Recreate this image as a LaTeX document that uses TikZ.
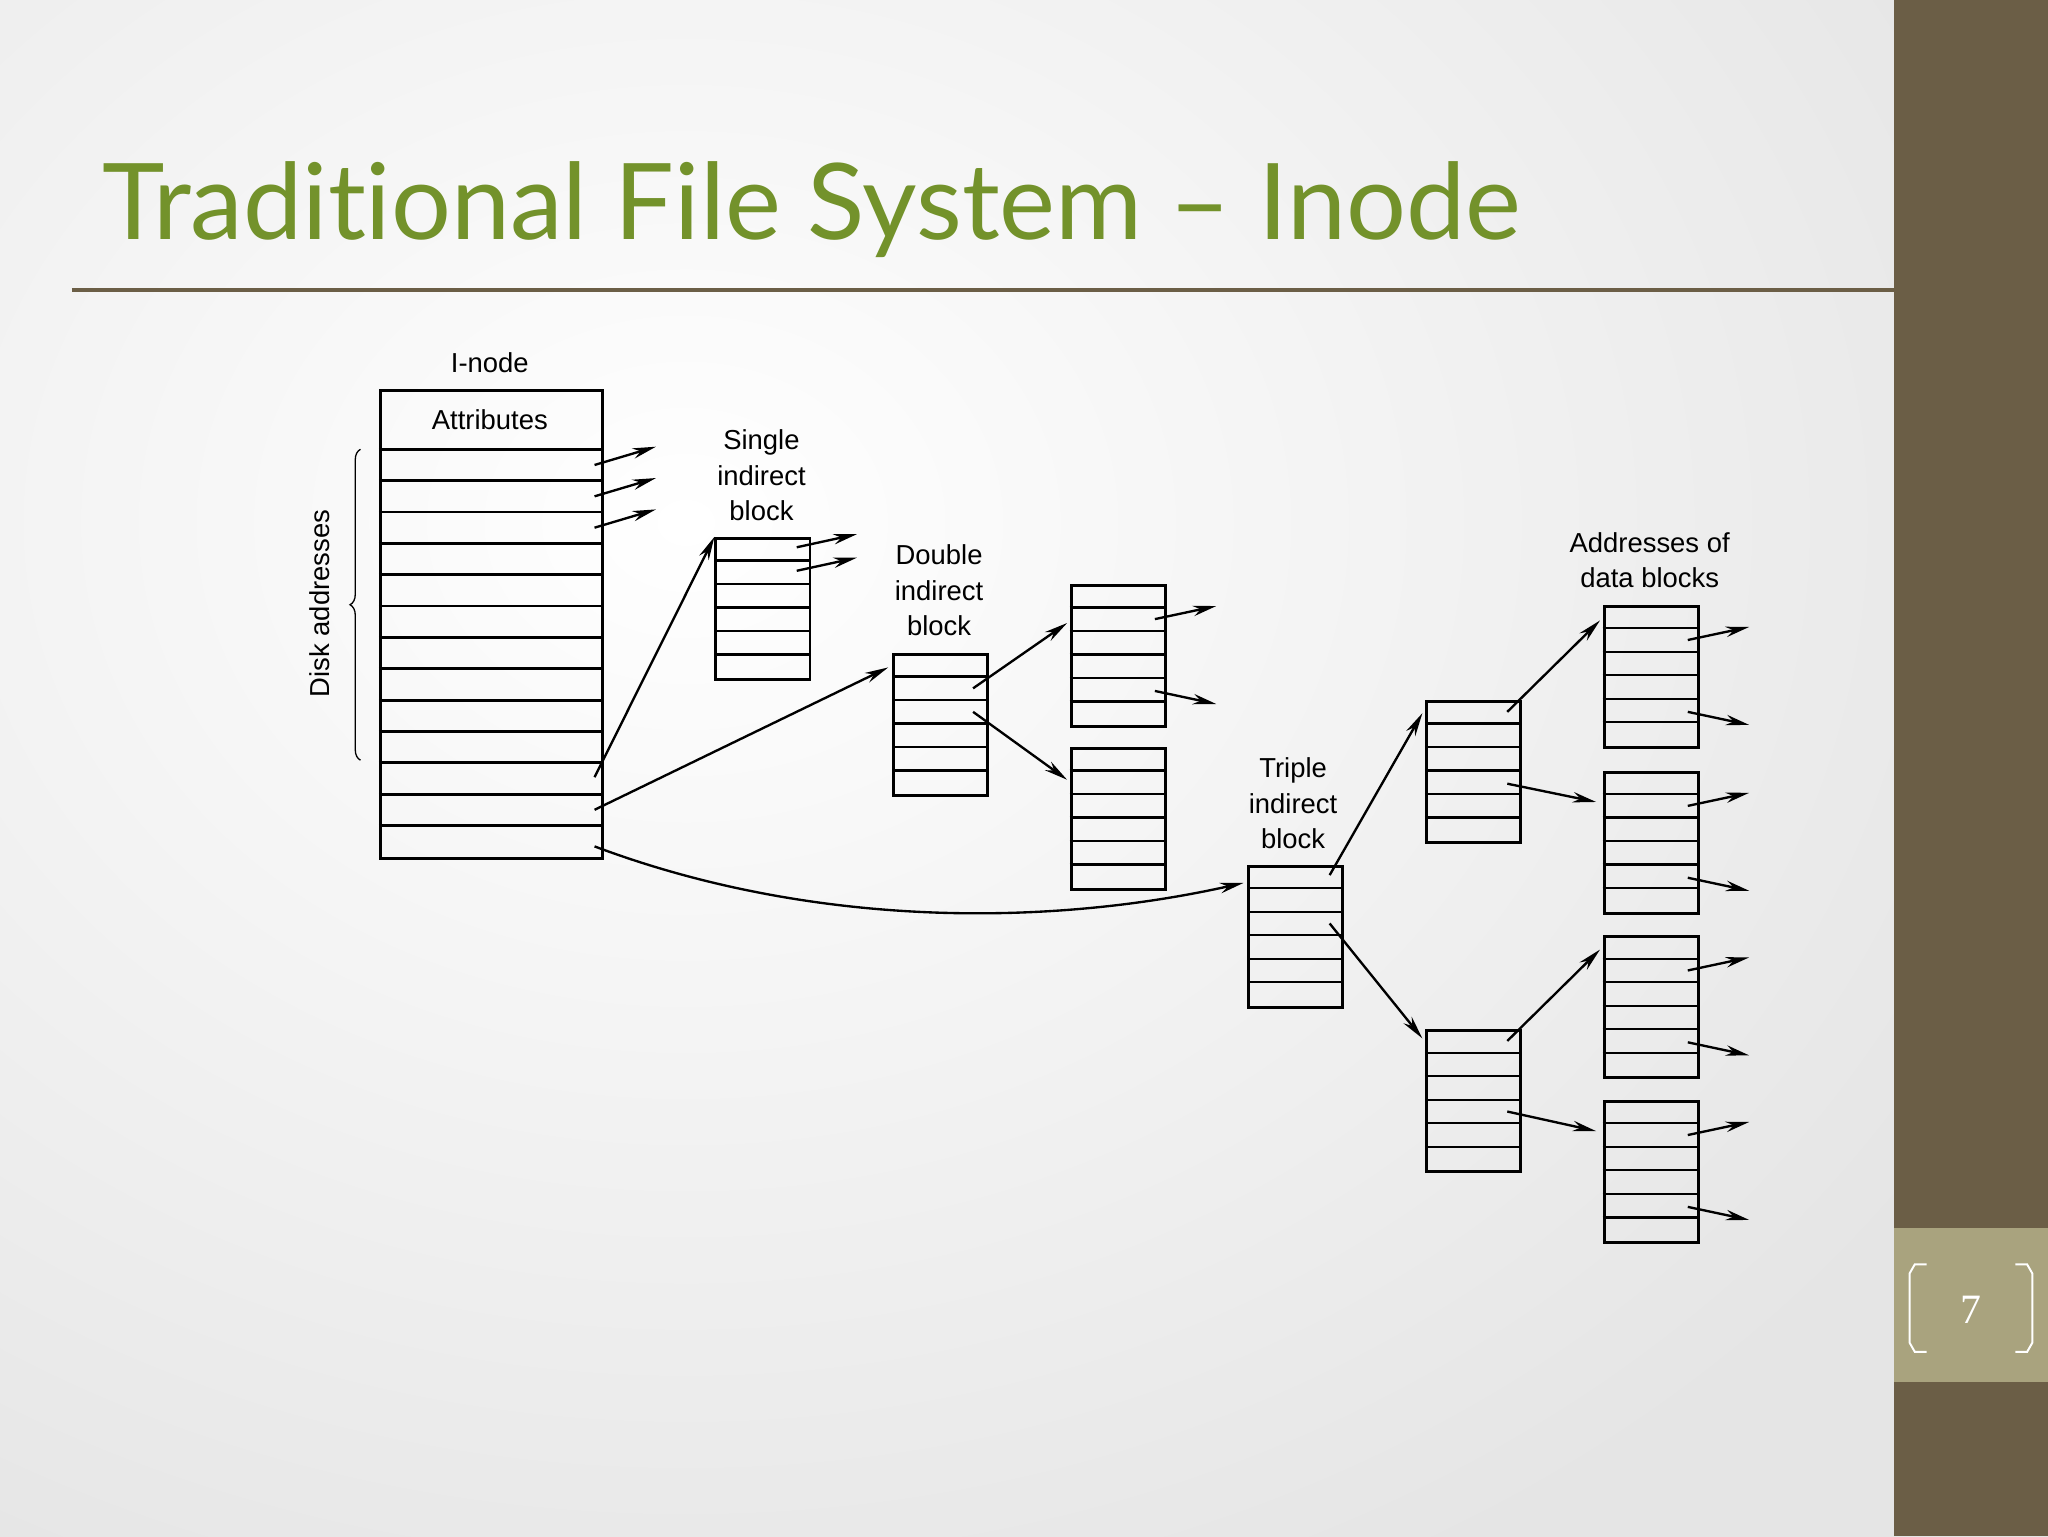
\documentclass[tikz,border=0pt]{standalone}
\usepackage{fontspec}
\setmainfont{Liberation Sans}
\newfontfamily\titlefont[RawFeature={-liga;-dlig}]{Lato}
\newfontfamily\numfont{Liberation Serif}
\usetikzlibrary{arrows.meta,calc,decorations.pathreplacing}
\definecolor{olive}{HTML}{6B5E46}
\definecolor{numbox}{HTML}{A9A37E}
\definecolor{titlegreen}{HTML}{73922B}
\tikzset{
  ln/.style={line width=2.2pt},
  arr/.style={line width=1.8pt,-{Stealth[length=18pt,width=8pt]}},
  lbl/.style={font=\fontsize{21}{27}\selectfont,align=center},
  blockbox/.style={draw,line width=2.2pt,minimum width=72pt,minimum height=108pt,anchor=north west,inner sep=0pt}
}
\newcommand\myblock[3]{%
  \node[blockbox] (#1) at (#2,#3) {};
  \foreach \i in {1,...,5}{\draw[line width=1.8pt] ($(#1.north west)+(0,18*\i)$) -- ++(72,0);}
}
\newcommand\outarrows[1]{%
  \draw[arr] ($(#1.north east)+(-9,27)$) -- ++(47,-10);
  \draw[arr] ($(#1.north east)+(-9,82)$) -- ++(47,10);
}
\begin{document}
\begin{tikzpicture}[x=1pt,y=-1pt]
\useasboundingbox (0,0) rectangle (1568,1176);
\fill[white] (0,0) rectangle (1450,1176);
\shade[inner color=white,outer color=gray!20] (-600,-500) rectangle (1650,1300);
\fill[olive] (1450,0) rectangle (1568,1176);
\fill[numbox] (1450,940) rectangle (1568,1058);
\draw[white,line width=1.5pt] (1475,968) -- (1466,968) -- (1462,975) -- (1462,1028) -- (1466,1035) -- (1475,1035);
\draw[white,line width=1.5pt] (1543,968) -- (1552,968) -- (1556,975) -- (1556,1028) -- (1552,1035) -- (1543,1035);
\node[white,font=\numfont\fontsize{32}{34}\selectfont] (pg) at (1509,1003) {7};
\node[anchor=base west,text=titlegreen,font=\titlefont\fontsize{81}{84}\selectfont,inner sep=0] (title) at (78,183) {Traditional File System – Inode};
\draw[olive,line width=2.5pt] (55,222) -- (1515,222);

% inode
\node[draw,line width=2.2pt,minimum width=170pt,minimum height=358pt,anchor=north west,inner sep=0] (inode) at (290,298) {};
\node[lbl] (attr) at (375,321) {Attributes};
\foreach \i in {0,...,12}{\draw[ln] ($(inode.north west)+(0,46+24*\i)$) -- ++(170,0);}
\node[lbl] (ilabel) at (375,278) {I-node};
\draw[line width=1pt,decorate,decoration={brace,amplitude=8pt}] (276,582) -- (276,344);
\node[lbl,rotate=90] (disk) at (245,462) {Disk addresses};
\foreach \i in {0,1,2}{\draw[arr] ($(inode.north east)+(-7,58+24*\i)$) -- ++(47,-14);}

% single
\myblock{single}{547}{411}
\node[lbl] (slabel) at (583,364) {Single\\indirect\\block};
\draw[arr] ($(single.north west)+(63,8)$) -- ++(46,-10);
\draw[arr] ($(single.north west)+(63,26)$) -- ++(46,-10);
\draw[arr] ($(inode.north east)+(-7,297)$) -- (single.north west);

% double
\myblock{double}{683}{500}
\node[lbl] (dlabel) at (719,452) {Double\\indirect\\block};
\draw[arr] ($(inode.north east)+(-7,322)$) -- ($(double.north west)+(-3,11)$);
\myblock{d1}{819}{447}
\myblock{d2}{819}{572}
\outarrows{d1}
\draw[arr] ($(double.north west)+(62,27)$) -- ($(d1.north west)+(-2,30)$);
\draw[arr] ($(double.north west)+(62,45)$) -- ($(d2.north west)+(-2,25)$);

% triple
\myblock{triple}{955}{662}
\node[lbl] (tlabel) at (990,615) {Triple\\indirect\\block};
\draw[arr] ($(inode.north east)+(-7,350)$) .. controls (620,710) and (800,710) .. ($(triple.north west)+(-3,14)$);
\myblock{t1}{1091}{536}
\myblock{t2}{1091}{788}
\draw[arr] ($(triple.north west)+(63,8)$) -- ($(t1.north west)+(-2,10)$);
\draw[arr] ($(triple.north west)+(63,45)$) -- ($(t2.north west)+(-2,7)$);
\myblock{a1}{1227}{463}
\myblock{a2}{1227}{590}
\myblock{a3}{1227}{716}
\myblock{a4}{1227}{842}
\node[lbl] (alabel) at (1263,429) {Addresses of\\data blocks};
\draw[arr] ($(t1.north west)+(63,9)$) -- ($(a1.north west)+(-2,12)$);
\draw[arr] ($(t1.north west)+(63,64)$) -- ($(a2.north west)+(-5,24)$);
\draw[arr] ($(t2.north west)+(63,9)$) -- ($(a3.north west)+(-2,11)$);
\draw[arr] ($(t2.north west)+(63,63)$) -- ($(a4.north west)+(-5,24)$);
\outarrows{a1}\outarrows{a2}\outarrows{a3}\outarrows{a4}
\end{tikzpicture}
\end{document}
